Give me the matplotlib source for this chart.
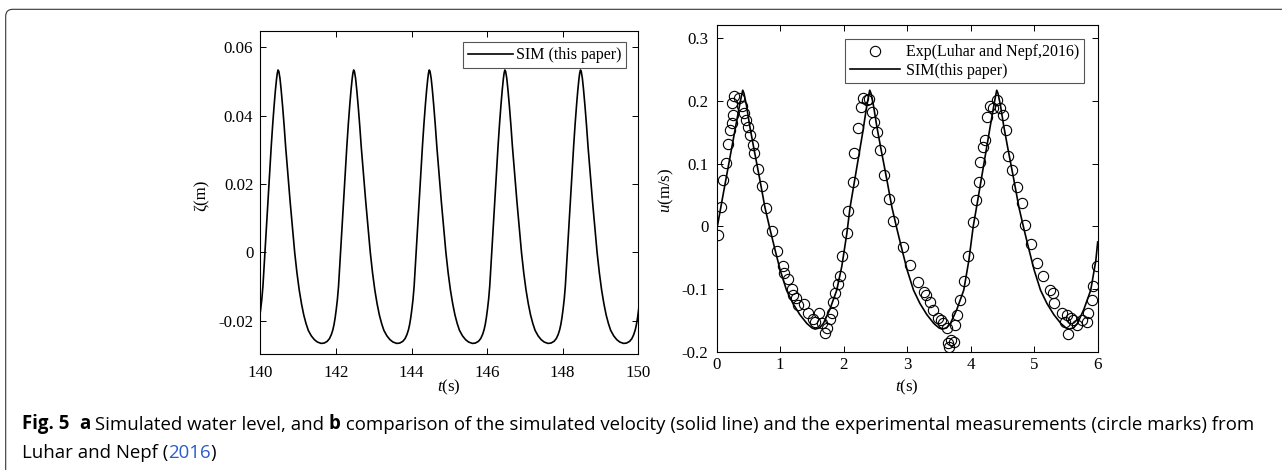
import numpy as np
import matplotlib
matplotlib.use("Agg")
import matplotlib.pyplot as plt
from matplotlib.patches import FancyBboxPatch
from matplotlib.transforms import IdentityTransform

# (a) simulated water level: one wave cycle, offsets from each crest (s)
cycle_offset = [-0.86, -0.78, -0.70, -0.64, -0.59, -0.55, -0.52, -0.49, -0.46, -0.43, -0.40, -0.37, -0.34,
                -0.30, -0.26, -0.22, -0.18, -0.14, -0.10, -0.07, -0.04, -0.02, 0.00, 0.02, 0.05, 0.08, 0.12,
                0.16, 0.20, 0.24, 0.28, 0.32, 0.36, 0.40, 0.44, 0.50, 0.56, 0.62, 0.68, 0.74, 0.80, 0.88,
                0.96, 1.04]
cycle_zeta = [-0.0266, -0.0265, -0.0260, -0.0252, -0.0240, -0.0226, -0.0211, -0.0191, -0.0166, -0.0137,
              -0.0098, -0.0042, 0.0015, 0.0090, 0.0165, 0.0240, 0.0312, 0.0378, 0.0436, 0.0475, 0.0508,
              0.0525, 0.0534, 0.0530, 0.0510, 0.0478, 0.0428, 0.0372, 0.0310, 0.0255, 0.0200, 0.0148,
              0.0098, 0.0048, 0.0000, -0.0060, -0.0110, -0.0150, -0.0183, -0.0208, -0.0228, -0.0244,
              -0.0255, -0.0262]
crest_times = [140.47, 142.47, 144.47, 146.47, 148.47, 150.47]

# (b) simulated velocity
t_sim = [0.00, 0.10, 0.20, 0.30, 0.36, 0.39, 0.41, 0.43, 0.47, 0.52, 0.58, 0.68, 0.76, 0.84, 0.92, 1.00, 1.10,
         1.20, 1.31, 1.42, 1.50, 1.55, 1.62, 1.68, 1.78, 1.89, 1.97, 2.05, 2.10, 2.20, 2.30, 2.36, 2.39, 2.41,
         2.43, 2.47, 2.52, 2.58, 2.68, 2.76, 2.84, 2.92, 3.00, 3.10, 3.20, 3.31, 3.42, 3.50, 3.55, 3.62, 3.68,
         3.78, 3.89, 3.97, 4.04, 4.10, 4.20, 4.30, 4.36, 4.39, 4.41, 4.43, 4.47, 4.52, 4.58, 4.68, 4.76, 4.84,
         4.92, 5.00, 5.10, 5.20, 5.31, 5.42, 5.50, 5.55, 5.62, 5.68, 5.78, 5.89, 5.97, 6.00]
u_sim = [-0.006, 0.050, 0.105, 0.160, 0.193, 0.208, 0.217, 0.212, 0.192, 0.160, 0.127, 0.074, 0.030, -0.005,
         -0.038, -0.070, -0.102, -0.123, -0.141, -0.155, -0.162, -0.164, -0.162, -0.155, -0.133, -0.102, -0.064,
         -0.011, 0.030, 0.090, 0.150, 0.190, 0.207, 0.217, 0.212, 0.192, 0.160, 0.127, 0.074, 0.030, -0.005,
         -0.038, -0.070, -0.102, -0.123, -0.141, -0.155, -0.162, -0.164, -0.162, -0.155, -0.133, -0.102, -0.055,
         0.000, 0.035, 0.095, 0.155, 0.190, 0.207, 0.217, 0.212, 0.192, 0.160, 0.127, 0.074, 0.030, -0.005,
         -0.038, -0.070, -0.102, -0.123, -0.141, -0.155, -0.162, -0.164, -0.162, -0.155, -0.133, -0.102, -0.055,
         -0.025]

# (b) measurements, Luhar and Nepf (2016)
t_exp = [0.026, 0.063, 0.105, 0.142, 0.184, 0.210, 0.236, 0.252, 0.236, 0.273, 0.357, 0.394, 0.430, 0.462, 0.499,
         0.525, 0.567, 0.593, 0.646, 0.709, 0.777, 0.866, 0.945, 1.039, 1.066, 1.129, 1.181, 1.207, 1.249, 1.286,
         1.375, 1.444, 1.512, 1.549, 1.617, 1.654, 1.706, 1.732, 1.785, 1.811, 1.837, 1.864, 1.916, 1.942, 1.969,
         2.047, 2.063, 2.142, 2.168, 2.231, 2.273, 2.310, 2.373, 2.404, 2.441, 2.483, 2.520, 2.572, 2.635, 2.719,
         2.782, 2.940, 3.044, 3.176, 3.265, 3.296, 3.360, 3.412, 3.491, 3.528, 3.570, 3.622, 3.648, 3.664, 3.690,
         3.735, 3.753, 3.780, 3.832, 3.900, 3.963, 4.041, 4.083, 4.136, 4.147, 4.199, 4.225, 4.262, 4.304, 4.346,
         4.409, 4.462, 4.514, 4.556, 4.593, 4.646, 4.724, 4.803, 4.855, 4.945, 5.039, 5.134, 5.249, 5.291, 5.312,
         5.433, 5.486, 5.512, 5.538, 5.580, 5.617, 5.669, 5.748, 5.827, 5.853, 5.906, 5.932, 5.984]
u_exp = [-0.014, 0.031, 0.074, 0.101, 0.131, 0.153, 0.164, 0.178, 0.196, 0.207, 0.204, 0.192, 0.180, 0.170, 0.159,
         0.146, 0.130, 0.117, 0.091, 0.064, 0.029, -0.007, -0.039, -0.064, -0.074, -0.084, -0.100, -0.109, -0.115,
         -0.125, -0.124, -0.138, -0.148, -0.152, -0.139, -0.155, -0.170, -0.163, -0.148, -0.139, -0.120, -0.107,
         -0.092, -0.080, -0.048, -0.010, 0.025, 0.071, 0.117, 0.157, 0.190, 0.204, 0.202, 0.203, 0.183, 0.167,
         0.150, 0.121, 0.082, 0.043, 0.009, -0.033, -0.061, -0.089, -0.104, -0.109, -0.120, -0.134, -0.146, -0.149,
         -0.154, -0.162, -0.186, -0.192, -0.181, -0.184, -0.157, -0.141, -0.117, -0.087, -0.048, 0.007, 0.042,
         0.070, 0.103, 0.127, 0.138, 0.175, 0.192, 0.188, 0.202, 0.189, 0.178, 0.153, 0.112, 0.090, 0.063, 0.037,
         0.002, -0.028, -0.059, -0.080, -0.102, -0.106, -0.123, -0.138, -0.152, -0.141, -0.171, -0.147, -0.149,
         -0.157, -0.149, -0.152, -0.139, -0.118, -0.096, -0.063]

a_xticks = [140, 142, 144, 146, 148, 150]
a_yticks = [-0.02, 0, 0.02, 0.04, 0.06]
a_yticklabels = ["-0.02", "0", "0.02", "0.04", "0.06"]
b_xticks = [0, 1, 2, 3, 4, 5, 6]
b_yticks = [-0.2, -0.1, 0, 0.1, 0.2, 0.3]
b_yticklabels = ["-0.2", "-0.1", "0", "0.1", "0.2", "0.3"]

plt.rcParams["font.family"] = ["Liberation Serif", "DejaVu Serif"]
plt.rcParams["mathtext.fontset"] = "custom"
plt.rcParams["mathtext.rm"] = "Liberation Serif"
plt.rcParams["mathtext.it"] = "Liberation Serif:italic"
plt.rcParams["axes.unicode_minus"] = False
plt.rcParams["font.size"] = 12.2
plt.rcParams["axes.linewidth"] = 0.8

fig = plt.figure(figsize=(12.82, 4.70), dpi=100)
W, H = 1282, 470


def axes_px(left, top, right, bottom):
    return fig.add_axes([left / W, 1 - bottom / H, (right - left) / W, (bottom - top) / H])


def style(ax, pad_x, pad_y):
    ax.tick_params(direction="in", top=True, right=True, length=4, width=0.7, labelsize=12.2)
    ax.tick_params(axis="x", pad=pad_x)
    ax.tick_params(axis="y", pad=pad_y)


def legend(ax, anchor, **kw):
    leg = ax.legend(loc="upper right", bbox_to_anchor=anchor, borderaxespad=0, fancybox=False,
                    edgecolor="#555555", framealpha=1, borderpad=0.3, fontsize=11.5, **kw)
    leg.get_frame().set_linewidth(0.8)


# panel a
ax1 = axes_px(260.3, 30.7, 638.3, 354)
zeta_t = np.concatenate([np.array(cycle_offset) + c for c in crest_times])
zeta_v = np.tile(cycle_zeta, len(crest_times))
ax1.plot(zeta_t, zeta_v, color="black", lw=1.2, label="SIM (this paper)")
ax1.set_xlim(140, 150)
ax1.set_ylim(-0.0297, 0.0649)
ax1.set_xticks(a_xticks)
ax1.set_yticks(a_yticks, a_yticklabels)
style(ax1, 8, 5)
ax1.set_xlabel("$t$(s)", va="center")
ax1.xaxis.set_label_coords(0.5, -0.103)
ax1.set_ylabel("ζ(m)", va="center")
ax1.yaxis.set_label_coords(-0.155, 0.49)
legend(ax1, (0.9675, 0.964), handlelength=2.8, handletextpad=0.2)

# panel b
ax2 = axes_px(716.7, 25, 1097.7, 351.7)
ax2.plot(t_exp, u_exp, ls="none", marker="o", ms=7.4, mfc="none", mec="black", mew=0.8,
         label="Exp(Luhar and Nepf,2016)")
ax2.plot(t_sim, u_sim, color="black", lw=1.2, label="SIM(this paper)")
ax2.set_xlim(0, 6)
ax2.set_ylim(-0.2, 0.321)
ax2.set_xticks(b_xticks)
ax2.set_yticks(b_yticks, b_yticklabels)
style(ax2, 4, 6)
ax2.set_xlabel("$t$(s)", va="center")
ax2.xaxis.set_label_coords(0.5, -0.108)
ax2.set_ylabel("$u$(m/s)", va="center")
ax2.yaxis.set_label_coords(-0.131, 0.495)
legend(ax2, (0.964, 0.956), handlelength=3.1, handletextpad=0.4, labelspacing=0.15)

# frame around the figure block (open to the right and bottom)
fig.add_artist(FancyBboxPatch((5.7, -30), 1400, 470 - 9.3 + 30, boxstyle="round,pad=0,rounding_size=7",
                              transform=IdentityTransform(), fill=False, edgecolor="#333333", lw=0.8))

# caption, written as runs so the bold parts and the blue year sit inline
cap_font = ["Open Sans", "DejaVu Sans"]
cap_size = 13.4


def caption_line(x, y, pieces):
    prev = None
    for text, weight, color in pieces:
        kw = dict(fontsize=cap_size, family=cap_font, weight=weight, color=color, va="bottom", ha="left")
        if prev is None:
            prev = fig.text(x, y, text, **kw)
        else:
            prev = fig.add_artist(plt.Annotation(text, xy=(1, 0), xycoords=prev, annotation_clip=False, **kw))


caption_line(21.7 / W, 36 / H, [("Fig. 5", "bold", "black"), ("  ", "normal", "black"), ("a", "bold", "black"),
                                (" Simulated water level, and ", "normal", "black"), ("b", "bold", "black"),
                                (" comparison of the simulated velocity (solid line) and the experimental "
                                 "measurements (circle marks) from", "normal", "black")])
caption_line(21.7 / W, 8 / H, [("Luhar and Nepf (", "normal", "black"), ("2016", "normal", "#2a5cc8"),
                               (")", "normal", "black")])

fig.savefig("out.png", dpi=100)
